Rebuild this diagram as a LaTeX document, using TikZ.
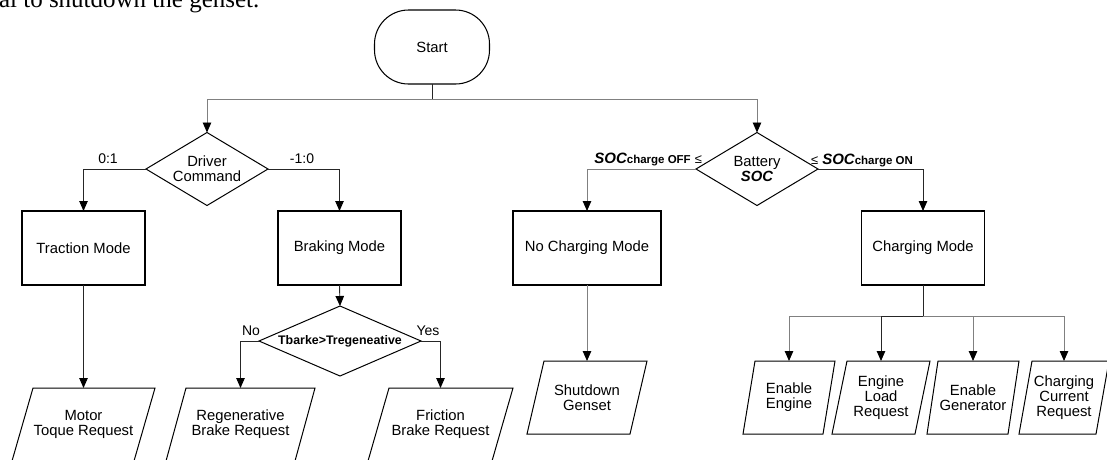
\documentclass[tikz,border=0pt]{standalone}
\usepackage{fontspec}
\setmainfont{Liberation Sans}
\newfontfamily\serifnote{Liberation Serif}
\usetikzlibrary{arrows.meta,shapes.geometric,calc}
\begin{document}
\begin{tikzpicture}[x=1pt,y=-1pt,
  every node/.style={inner sep=0pt,outer sep=0pt,font=\fontsize{14.8}{16}\selectfont,align=center},
  box/.style={draw,line width=1.05pt,minimum width=123pt,minimum height=74pt},
  terminal/.style={draw,line width=1.05pt,rectangle,rounded corners=34pt,minimum width=115pt,minimum height=74pt},
  decision/.style={draw,line width=1pt,diamond,shape aspect=1.67,minimum width=122pt,minimum height=73pt},
  paratext/.style={minimum height=73pt},
  parashape/.style={draw,line width=1pt,line join=miter},
  conn/.style={line width=0.9pt,draw=black!85},
  connlight/.style={line width=0.9pt,draw=black!50},
  arr/.style={-{Triangle[width=8.5pt,length=10pt,black]}},
  lbl/.style={font=\fontsize{14}{16}\selectfont},
]
\useasboundingbox (0,0) rectangle (1107,459);
\clip (0,0) rectangle (1107,459);

% fragment of running text
\node[anchor=base west,font=\serifnote\fontsize{25}{25}\selectfont] (note) at (-1,7) {al to shutdown the genset.};

% main nodes
\node[terminal] (start) at (432,47) {Start};
\coordinate (j1) at (432,99);
\node[decision] (driver) at (207,169) {Driver\\[-1pt]Command};
\node[decision] (battery) at (757,169) {Battery\\[-1pt]{\bfseries\itshape SOC}};

\node[box] (traction) at (83.5,248) {Traction Mode};
\node[box] (braking) at (339.5,248) {Braking Mode};
\node[box,minimum width=148pt] (nocharge) at (587,248) {No Charging Mode};
\node[box] (charging) at (923,248) {Charging Mode};

\node[decision,shape aspect=2.3,minimum width=162pt,minimum height=70pt,font=\bfseries\fontsize{12.4}{14}\selectfont] (tb) at (340,341) {Tbarke>Tregeneative};

% parallelogram outputs
\node[paratext,minimum width=143pt] (motor) at (83.5,424.5) {Motor\\[-1pt]Toque Request};
\node[paratext,minimum width=149pt] (regen) at (240.5,424.5) {Regenerative\\[-1pt]Brake Request};
\node[paratext,minimum width=145pt] (friction) at (440.5,424.5) {Friction\\[-1pt]Brake Request};
\node[paratext,minimum width=120pt] (shutdown) at (587,397.5) {Shutdown\\[-1pt]Genset};
\node[paratext,minimum width=92pt] (eneng) at (789,397.5) {Enable\\[-1pt]Engine};
\node[paratext,minimum width=98pt] (engload) at (881,397.5) {Engine\\[-1pt]Load\\[-1pt]Request};
\node[paratext,minimum width=92pt] (engen) at (973,397.5) {Enable\\[-1pt]Generator};
\node[paratext,minimum width=90pt] (chgcur) at (1064,397.5) {Charging\\[-1pt]Current\\[-1pt]Request};

\foreach \n/\s in {motor/21,regen/20,friction/21,shutdown/17,eneng/12,engload/15,engen/11,chgcur/13}{
  \draw[parashape] ([xshift=\s pt]\n.north west) -- (\n.north east) -- ([xshift=-\s pt]\n.south east) -- (\n.south west) -- cycle;
}

% labels
\node[lbl] (l01) at (108,159) {0:1};
\node[lbl] (l10) at (302,159) {-1:0};
\node[lbl] (lno) at (251,331) {No};
\node[lbl] (lyes) at (428,331) {Yes};
\node[anchor=east] (loff) at (702,159) {{\bfseries\itshape\fontsize{15}{16}\selectfont SOC}{\bfseries\fontsize{11.5}{14}\selectfont charge OFF} {\fontsize{13}{14}\selectfont ≤}};
\node[anchor=west] (lon) at (811,160) {{\fontsize{13}{14}\selectfont ≤} {\bfseries\itshape\fontsize{15}{16}\selectfont SOC}{\bfseries\fontsize{11.5}{14}\selectfont charge ON}};

% connectors
\draw[conn] (start.south) -- (j1);
\draw[connlight,arr] (j1) -| (driver.north);
\draw[connlight,arr] (j1) -| (battery.north);

\draw[conn,arr] (driver.west) -| (traction.north);
\draw[conn,arr] (driver.east) -| (braking.north);
\draw[conn,arr] (traction.south) -- (motor.north);
\draw[conn,arr] (braking.south) -- (tb.north);
\draw[conn,arr] (tb.west) -| (regen.north);
\draw[conn,arr] (tb.east) -| (friction.north);

\draw[connlight,arr] (battery.west) -| (nocharge.north);
\draw[conn,arr] (battery.east) -| (charging.north);
\draw[connlight,arr] (nocharge.south) -- (shutdown.north);

\coordinate (j2) at (923,316);
\draw[conn] (charging.south) -- (j2);
\draw[connlight,arr] (j2) -| (eneng.north);
\draw[conn,arr] (j2) -| (engload.north);
\draw[connlight,arr] (j2) -| (engen.north);
\draw[connlight,arr] (j2) -| (chgcur.north);
\end{tikzpicture}
\end{document}
